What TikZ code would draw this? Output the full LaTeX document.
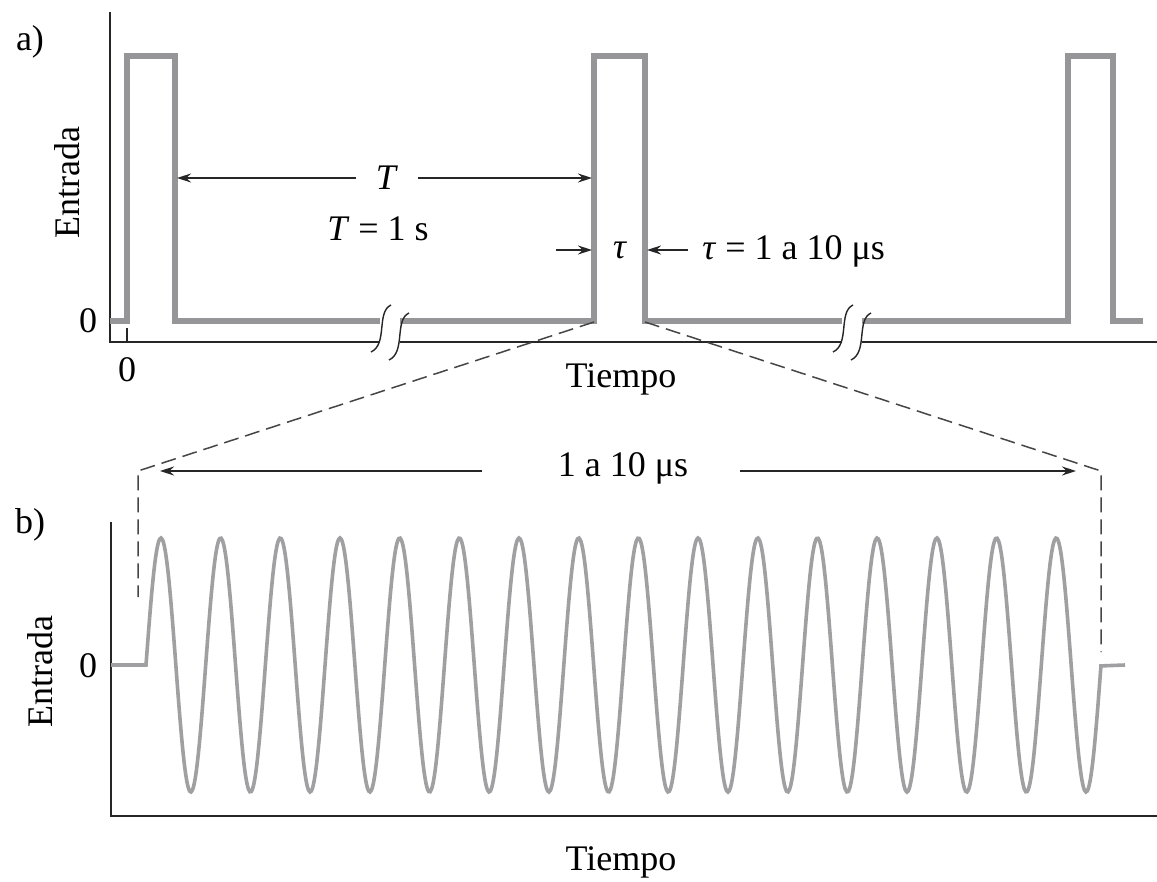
\documentclass[tikz,border=0pt]{standalone}
\usepackage{fontspec}
\setmainfont{Liberation Serif}
\usetikzlibrary{arrows.meta}
\definecolor{sigc}{RGB}{150,150,152}
\definecolor{sinc}{RGB}{160,160,162}
\definecolor{zoomc}{RGB}{70,70,70}
\begin{document}
\begin{tikzpicture}[x=0.5pt,y=-0.5pt,
  sig/.style={draw=sigc, line width=2.6pt, line join=miter},
  sinew/.style={draw=sinc, line width=1.8pt},
  axisline/.style={draw=black!85, line width=0.8pt},
  dimline/.style={draw=black!85, line width=0.6pt, -{Stealth[length=7pt,width=4.5pt]}},
  zoomline/.style={draw=zoomc, line width=0.75pt, dash pattern=on 7.5pt off 3.5pt},
  brk/.style={draw=black!85, line width=0.7pt},
  lbl/.style={font=\fontsize{18}{21}\selectfont, inner sep=0pt},
]
\useasboundingbox (0,0) rectangle (1157,882);
\fill[white] (0,0) rectangle (1157,882);

% ---------- panel a ----------
\node[lbl] (la) at (30,42) {a)};
\draw[axisline] (110,12) -- (110,342) -- (380,342);
\draw[axisline] (400,342) -- (842,342);
\draw[axisline] (862,342) -- (1157,342);
\draw[axisline] (127,328) -- (127,342);

\draw[sig] (110,321) -- (127,321) -- (127,56) -- (175,56) -- (175,321) -- (380,321);
\draw[sig] (400,321) -- (594,321) -- (594,56) -- (645,56) -- (645,321) -- (842,321);
\draw[sig] (862,321) -- (1068,321) -- (1068,56) -- (1113,56) -- (1113,321) -- (1143,321);

% break marks
\foreach \dx in {0,462}{
  \draw[brk] (391+\dx,305) .. controls (376+\dx,312) and (388+\dx,344) .. (371+\dx,352);
  \draw[brk] (409+\dx,313) .. controls (394+\dx,320) and (406+\dx,352) .. (389+\dx,360);
}

\node[lbl, rotate=90] (ya) at (67,183) {Entrada};
\node[lbl] (z1) at (88,321) {0};
\node[lbl] (z2) at (127,370) {0};
\node[lbl] (ta) at (621,379) {Tiempo};

% T dimension
\coordinate (p1r) at (177,178);
\coordinate (p2l) at (592,178);
\node[lbl, inner xsep=10pt] (Tl) at (387,178) {\textit{T}};
\draw[dimline] (Tl.west) -- (p1r);
\draw[dimline] (Tl.east) -- (p2l);
\node[lbl] (Tv) at (378,229) {\textit{T} = 1 s};

% tau dimension
\coordinate (tl0) at (556,250);
\coordinate (tl1) at (592,250);
\coordinate (tr0) at (688,250);
\coordinate (tr1) at (647,250);
\draw[dimline] (tl0) -- (tl1);
\draw[dimline] (tr0) -- (tr1);
\node[lbl] (tau) at (620,250) {\textit{τ}};
\node[lbl, anchor=west] (tauv) at (702,251) {\textit{τ} = 1 a 10 μs};

% zoom lines
\coordinate (zl0) at (594,322);
\coordinate (zl1) at (138,471);
\coordinate (zl2) at (138,597);
\coordinate (zr0) at (645,322);
\coordinate (zr1) at (1101,471);
\coordinate (zr2) at (1101,652);
\draw[zoomline] (zl0) -- (zl1) -- (zl2);
\draw[zoomline] (zr0) -- (zr1) -- (zr2);

% 1 a 10 us dimension
\node[lbl] (dur) at (623,468) {1 a 10 μs};
\coordinate (dl0) at (482,471);
\coordinate (dl1) at (160,471);
\coordinate (dr0) at (740,471);
\coordinate (dr1) at (1076,471);
\draw[dimline] (dl0) -- (dl1);
\draw[dimline] (dr0) -- (dr1);

% ---------- panel b ----------
\node[lbl] (lb) at (30,525) {b)};
\draw[axisline] (111,522) -- (111,816) -- (1157,816);
\draw[sinew] (111,665) -- (146,665)
  -- plot[domain=0:16, samples=700, smooth] ({146+59.6875*\x}, {665 - 127*sin(360*\x)})
  -- (1125,665);
\node[lbl] (z3) at (88,666) {0};
\node[lbl, rotate=90] (yb) at (40,672) {Entrada};
\node[lbl] (tb) at (621,862) {Tiempo};
\end{tikzpicture}
\end{document}
